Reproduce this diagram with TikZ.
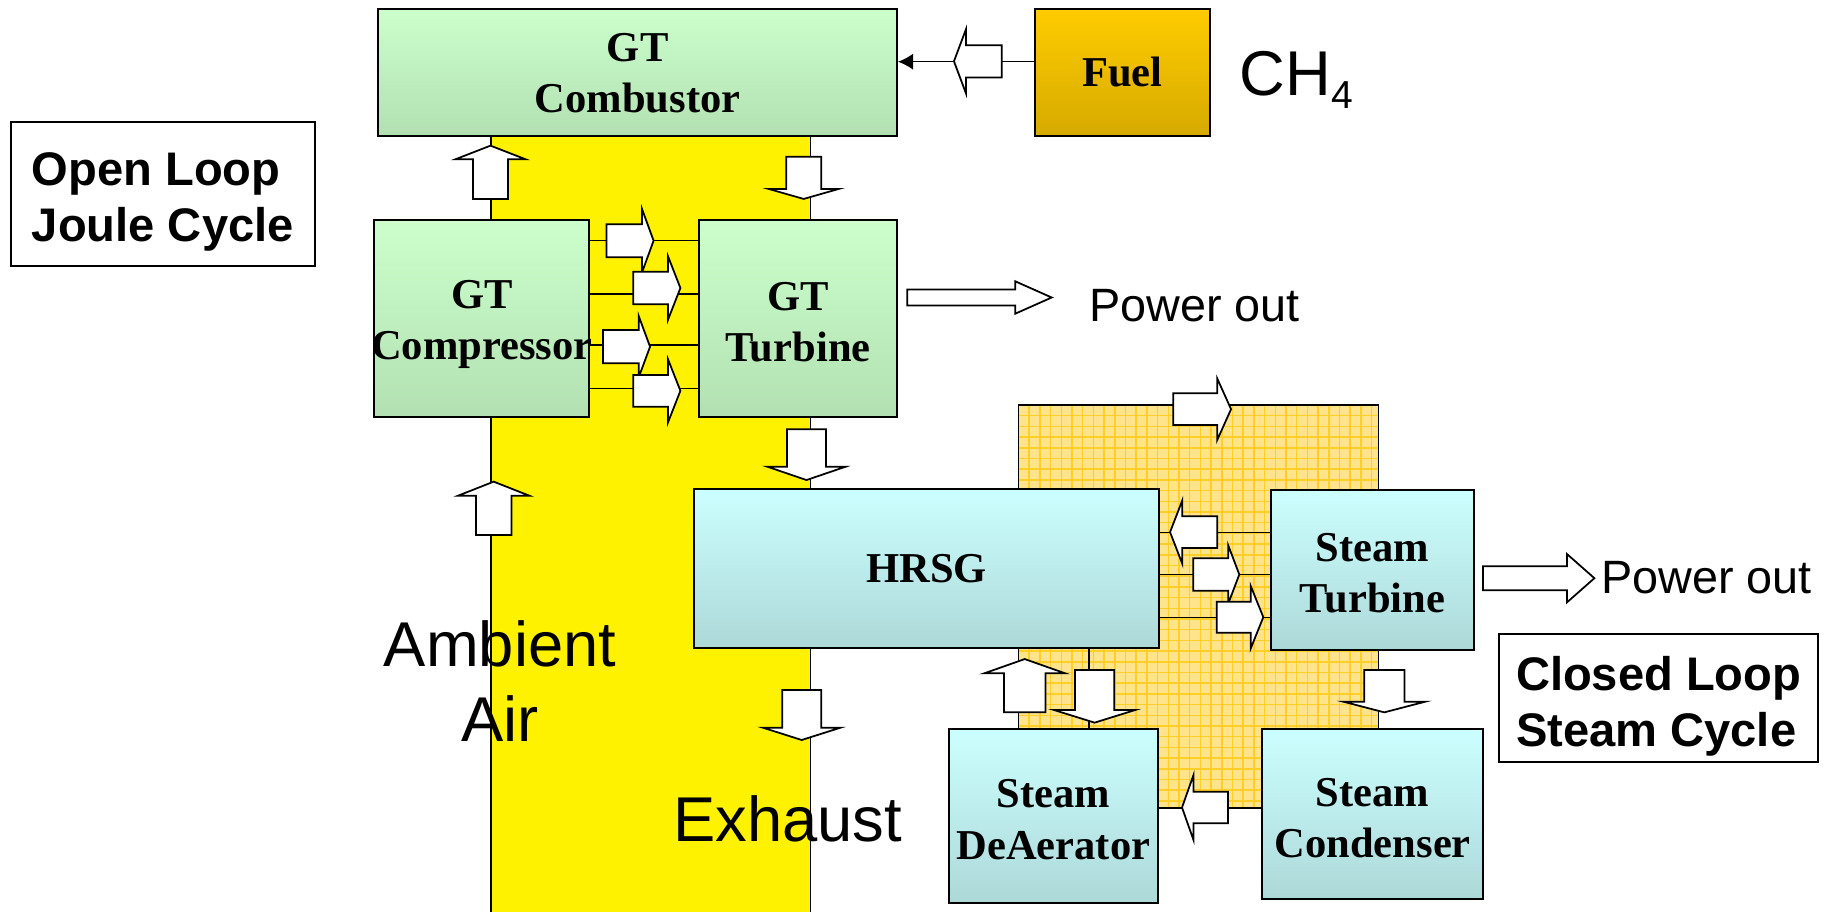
\documentclass[tikz,border=0pt]{standalone}
\usepackage{fontspec}
\setmainfont{Liberation Serif}
\setsansfont{Liberation Sans}
\usetikzlibrary{arrows.meta}

\definecolor{gtgreentop}{RGB}{204,255,204}
\definecolor{gtgreenbot}{RGB}{178,224,178}
\definecolor{stcyantop}{RGB}{204,255,255}
\definecolor{stcyanbot}{RGB}{173,216,216}
\definecolor{fueltop}{RGB}{255,204,0}
\definecolor{fuelbot}{RGB}{214,170,0}
\definecolor{hatchbg}{RGB}{255,228,140}
\definecolor{hatchline}{RGB}{255,207,40}

\newcommand{\unitfont}{\fontsize{12.1pt}{14.6pt}\selectfont\bfseries}
\newcommand{\notefont}{\fontsize{13.4pt}{15.9pt}\selectfont\sffamily\bfseries}
\newcommand{\powerfont}{\fontsize{13.3pt}{15.9pt}\selectfont\sffamily}
\newcommand{\bigfont}{\fontsize{18pt}{21.3pt}\selectfont\sffamily}
\newcommand{\dropgap}[1]{\rule{0pt}{#1}}

\newcommand{\blockarrow}[7]{\draw[blockarr, shift={(#2,#3)}, rotate=#1] (-#4/2,-#5/2) -- (#4/2-#7,-#5/2) -- (#4/2-#7,-#6/2) -- (#4/2,0) -- (#4/2-#7,#6/2) -- (#4/2-#7,#5/2) -- (-#4/2,#5/2) -- cycle;}
\newcommand{\blockE}[6]{\blockarrow{0}{#1}{#2}{#3}{#4}{#5}{#6}}
\newcommand{\blockN}[6]{\blockarrow{90}{#1}{#2}{#3}{#4}{#5}{#6}}
\newcommand{\blockW}[6]{\blockarrow{180}{#1}{#2}{#3}{#4}{#5}{#6}}
\newcommand{\blockS}[6]{\blockarrow{270}{#1}{#2}{#3}{#4}{#5}{#6}}

\begin{document}
\begin{tikzpicture}
        [
        x=0.01cm, y=-0.01cm,
        gtbox/.style={draw, line width=0.55pt, top color=gtgreentop, bottom color=gtgreenbot, inner sep=0pt, align=center, font=\unitfont},
        stbox/.style={draw, line width=0.55pt, top color=stcyantop, bottom color=stcyanbot, inner sep=0pt, align=center, font=\unitfont},
        fuelbox/.style={draw, line width=0.55pt, top color=fueltop, bottom color=fuelbot, inner sep=0pt, align=center, font=\unitfont},
        notebox/.style={draw, line width=0.55pt, fill=white, inner sep=0pt, align=left, font=\notefont},
        flowline/.style={line width=0.45pt},
        bandedge/.style={line width=0.5pt},
        feedline/.style={-{Latex[length=4.3pt,width=4.6pt]}, line width=0.45pt},
        blockarr/.style={draw=black, fill=white, line width=0.5pt, line join=miter},
        gridline/.style={hatchline, line width=0.45pt},
        ]
        \useasboundingbox[fill=white] (0,0) rectangle (1835,912);
        \fill[yellow] (491,100) rectangle (810.5,912);
        \draw[bandedge] (491,100) -- (491,912);
        \draw[bandedge] (810.5,100) -- (810.5,912);
        \fill[hatchbg] (1018.5,405) rectangle (1378.5,808);
        \begin{scope}
            \clip (1018.5,405) rectangle (1378.5,808);
            \foreach \gx in {1018.5,1029.2,...,1385}{\draw[gridline] (\gx,400) -- (\gx,812);}
            \foreach \gy in {405,415.7,...,812}{\draw[gridline] (1015,\gy) -- (1382,\gy);}
        \end{scope}
        \draw[bandedge] (1018.5,405) rectangle (1378.5,808);

        \node[gtbox, minimum width=5.182cm, minimum height=1.271cm] (comb) at (637.7,72.2) {\dropgap{8.6pt}GT\\Combustor};
        \node[fuelbox, minimum width=1.753cm, minimum height=1.271cm] (fuel) at (1122.4,72.2) {Fuel};
        \node[gtbox, minimum width=2.15cm, minimum height=1.973cm] (comp) at (481.8,318.7) {\dropgap{11.4pt}GT\\\makebox[2.15cm]{Compressor}};
        \node[gtbox, minimum width=1.975cm, minimum height=1.973cm] (turb) at (798,318.7) {\dropgap{9.8pt}GT\\Turbine};
        \node[stbox, minimum width=4.64cm, minimum height=1.59cm] (hrsg) at (926.5,568.8) {HRSG};
        \node[stbox, minimum width=2.03cm, minimum height=1.6cm] (stt) at (1372.5,570) {\dropgap{10pt}Steam\\Turbine};
        \node[stbox, minimum width=2.086cm, minimum height=1.734cm] (dea) at (1053.3,816) {\dropgap{10pt}Steam\\DeAerator};
        \node[stbox, minimum width=2.206cm, minimum height=1.697cm] (cond) at (1372.7,814.2) {\dropgap{10.4pt}Steam\\Condenser};
        \node[notebox, minimum width=3.043cm, minimum height=1.44cm] (openloop) at (162.8,193.7) {\dropgap{13.8pt}Open Loop\\Joule Cycle};
        \node[notebox, minimum width=3.186cm, minimum height=1.277cm] (closedloop) at (1658.7,697.8) {\dropgap{14.4pt}Closed Loop\\Steam Cycle};

        \coordinate (fuelpt) at (0,61.7);
        \coordinate (dealine) at (1089,0);
        \draw[feedline] (fuel.west |- fuelpt) -- (comb.east |- fuelpt);
        \foreach \ly [count=\i] in {240.7,294,345,388.3}{
            \coordinate (gtl\i) at (0,\ly);
            \draw[flowline] (comp.east |- gtl\i) -- (turb.west |- gtl\i);
        }
        \foreach \ly [count=\i] in {532.7,574.3,617.3}{
            \coordinate (stl\i) at (0,\ly);
            \draw[flowline] (hrsg.east |- stl\i) -- (stt.west |- stl\i);
        }
        \draw[flowline] (hrsg.south -| dealine) -- (dea.north -| dealine);

        \blockW{977.8}{61.3}{47.7}{32.3}{64}{12}
        \blockN{490.5}{172.3}{53.3}{35}{70}{13.6}
        \blockS{803.7}{177.8}{42.3}{35}{70}{10}
        \blockE{630}{240.7}{47.2}{33}{63}{11.5}
        \blockE{656.8}{288}{47.2}{32.3}{64}{12.5}
        \blockE{626.5}{346.7}{47.1}{33.3}{61.7}{11.4}
        \blockE{656.8}{390.8}{47.2}{31.7}{63.7}{12.5}
        \blockN{493.7}{508.3}{53.3}{35.4}{71}{14}
        \blockS{806.5}{454.7}{50.7}{39}{78}{13.3}
        \blockS{801.7}{715}{50}{39}{77.5}{12.3}
        \blockE{1202.2}{409.2}{57.7}{31.7}{61}{13.7}
        \blockW{1193.7}{532.1}{47.3}{31.7}{63.6}{12.3}
        \blockE{1216.3}{574.5}{46}{32.4}{58}{11}
        \blockE{1240}{617.2}{46.6}{31}{62.6}{12.6}
        \blockN{1024.7}{685.7}{53.3}{41.4}{81}{14.3}
        \blockS{1094.6}{696.3}{52.7}{39.3}{81.6}{12.7}
        \blockS{1384.3}{691.2}{42.3}{40.2}{81.4}{10.6}
        \blockW{1205}{807.5}{46}{31.6}{65}{11.5}
        \blockE{979.5}{297.5}{144.3}{16}{32.5}{36.5}
        \blockE{1538.7}{578.2}{111.4}{24}{48.3}{27.4}

        \node[anchor=base, inner sep=0pt, font=\bigfont] (ch4) at (1296.4,95) {CH\raisebox{-3.8pt}{\fontsize{11.1pt}{11.1pt}\selectfont 4}};
        \node[align=center, inner sep=0pt, font=\bigfont] (air) at (500,681) {Ambient\\Air};
        \node[anchor=base, inner sep=0pt, font=\bigfont] (exhaust) at (787.5,841.7) {Exhaust};
        \node[anchor=base, inner sep=0pt, font=\powerfont] (powergt) at (1194.5,321.7) {Power out};
        \node[anchor=base, inner sep=0pt, font=\powerfont] (powerst) at (1706.7,593.3) {Power out};
\end{tikzpicture}
\end{document}
